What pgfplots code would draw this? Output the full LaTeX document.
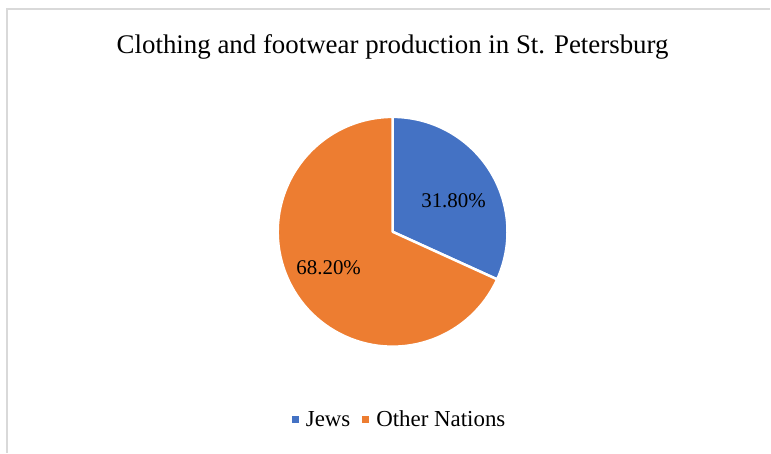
\documentclass[border=0pt]{standalone}
\usepackage{pgfplots}
\usepackage{pgfplotstable}
\pgfplotsset{compat=1.18}
\usepackage{fontspec}
\setmainfont{Liberation Serif}
\definecolor{cJews}{HTML}{4472C4}
\definecolor{cOther}{HTML}{ED7D31}
\definecolor{frame}{HTML}{D9D9D9}

\pgfplotstableread{
label value
Jews 31.8
Other 68.2
}\piedata

\begin{document}
\begin{tikzpicture}
\pgfplotstablegetelem{0}{value}\of\piedata \let\vA\pgfplotsretval
\pgfplotstablegetelem{1}{value}\of\piedata \let\vB\pgfplotsretval
\pgfmathsetmacro{\aStart}{90}
\pgfmathsetmacro{\aMid}{90-3.6*\vA}
\pgfmathsetmacro{\aEnd}{\aMid-3.6*\vB}
\begin{axis}[
  scale only axis, width=771bp, height=453bp,
  xmin=0, xmax=771, ymin=0, ymax=453,
  hide axis, clip=false,
  legend columns=2,
  legend style={at={(axis cs:400,33)}, anchor=center, draw=none, fill=none,
    font=\fontsize{23}{25}\selectfont,
    /tikz/every even column/.append style={column sep=10bp},
    /tikz/every odd column/.append style={column sep=5bp}},
  legend image code/.code={\fill[#1] (0bp,-3.5bp) rectangle (7bp,3.5bp);},
]
\fill[white] (axis cs:0,0) rectangle (axis cs:771,453);
\draw[frame, line width=1.5bp] (axis cs:7,0) -- (axis cs:7,444) -- (axis cs:771,444);
\addlegendimage{fill=cJews, draw=none}
\addlegendentry{Jews}
\addlegendimage{fill=cOther, draw=none}
\addlegendentry{Other Nations}
\filldraw[fill=cJews, draw=white, line width=2.5bp, line join=round]
  (axis cs:393,221) -- ++(\aStart:115bp) arc[start angle=\aStart, end angle=\aMid, radius=115bp] -- cycle;
\filldraw[fill=cOther, draw=white, line width=2.5bp, line join=round]
  (axis cs:393,221) -- ++(\aMid:115bp) arc[start angle=\aMid, end angle=\aEnd, radius=115bp] -- cycle;
\node[font=\fontsize{21}{24}\selectfont] at (axis cs:454,252) {31.80\%};
\node[font=\fontsize{21}{24}\selectfont] at (axis cs:329,185) {68.20\%};
\node[font=\fontsize{27}{30}\selectfont] at (axis cs:393,406) {Clothing and footwear production in St. Petersburg};
\end{axis}
\end{tikzpicture}
\end{document}
